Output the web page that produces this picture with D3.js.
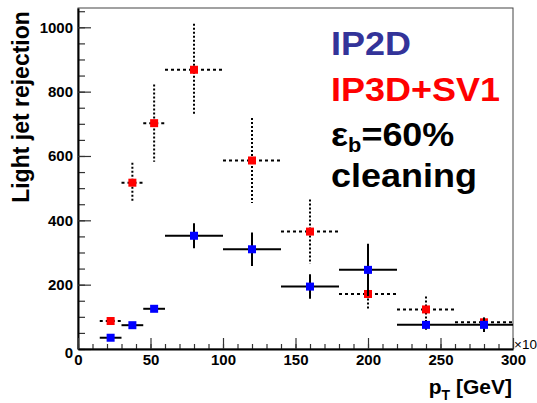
<!DOCTYPE html>
<html>
<head>
<meta charset="utf-8">
<script src="https://cdn.jsdelivr.net/npm/d3@7"></script>
<style>
  body { margin: 0; background: #fff; }
  text { font-family: "Liberation Sans", Arial, sans-serif; font-weight: bold; }
</style>
</head>
<body>
<div id="chart-area"></div>
<script>
// pT bins [GeV] and light jet rejection at eff_b = 60%
const binLow  = [15, 30, 45, 60, 100, 140, 180, 220, 260]
const binHigh = [30, 45, 60, 100, 140, 180, 220, 260, 300]

const ip2d    = [35, 74, 125, 352, 310, 194, 246, 75, 75]
const ip2dErr = [8, 8, 10, 39, 52, 38, 81, 15, 22]

const ip3dsv1    = [87, 517, 702, 868, 586, 365, 171, 123, 83]
const ip3dsv1Err = [10, 62, 120, 143, 132, 100, 48, 40, 15]

const yTicks = [0, 200, 400, 600, 800, 1000]
const xTicks = [0, 50, 100, 150, 200, 250, 300]

const W = 537
const H = 403
const PLOT = {LEFT: 78, RIGHT: 513, TOP: 8, BOTTOM: 349}

const svg = d3.select("#chart-area").append("svg")
  .attr("width", W)
  .attr("height", H)

const x = d3.scaleLinear()
  .domain([0, 300])
  .range([PLOT.LEFT, PLOT.RIGHT])

const y = d3.scaleLinear()
  .domain([0, 1060])
  .range([PLOT.BOTTOM, PLOT.TOP])

// frame
svg.append("rect")
  .attr("x", PLOT.LEFT)
  .attr("y", PLOT.TOP)
  .attr("width", PLOT.RIGHT - PLOT.LEFT)
  .attr("height", PLOT.BOTTOM - PLOT.TOP)
  .attr("fill", "none")
  .attr("stroke", "#444")
  .attr("stroke-width", 1)

// minor ticks
svg.append("g")
  .attr("transform", `translate(${PLOT.LEFT}, 0)`)
  .call(d3.axisLeft(y).tickValues(d3.range(0, 1060, 50)).tickSize(-7).tickSizeOuter(0).tickFormat(""))
  .call(g => g.select(".domain").remove())
  .selectAll("line").attr("stroke", "#333").attr("stroke-width", 1.2)

svg.append("g")
  .attr("transform", `translate(0, ${PLOT.BOTTOM})`)
  .call(d3.axisBottom(x).tickValues(d3.range(0, 301, 10)).tickSize(-5).tickSizeOuter(0).tickFormat(""))
  .call(g => g.select(".domain").remove())
  .selectAll("line").attr("stroke", "#333").attr("stroke-width", 1.2)

// major axes
const yAxisGroup = svg.append("g")
  .attr("transform", `translate(${PLOT.LEFT}, 0)`)
  .call(d3.axisLeft(y).tickValues(yTicks).tickSize(-13).tickSizeOuter(0).tickPadding(5).tickFormat(d3.format("d")))

const xAxisGroup = svg.append("g")
  .attr("transform", `translate(0, ${PLOT.BOTTOM})`)
  .call(d3.axisBottom(x).tickValues(xTicks).tickSize(-11).tickSizeOuter(0).tickPadding(5).tickFormat(d3.format("d")))

for (const ax of [yAxisGroup, xAxisGroup]) {
  ax.select(".domain").attr("stroke-width", 2)
  ax.selectAll("line").attr("stroke", "#333").attr("stroke-width", 1.2)
  ax.selectAll("text")
    .style("font-size", "15px")
    .style("font-family", "Liberation Sans, Arial, sans-serif")
    .style("font-weight", "bold")
    .attr("fill", "#000")
}
yAxisGroup.selectAll("text").filter(d => d === 0).attr("dy", "0.55em")

svg.append("text")
  .attr("x", 514)
  .attr("y", 349)
  .style("font-size", "13.5px")
  .style("font-weight", "normal")
  .text("×10")

// axis titles
svg.append("text")
  .attr("transform", "rotate(-90)")
  .attr("x", -107)
  .attr("y", 29)
  .style("font-size", "23px")
  .attr("text-anchor", "middle")
  .text("Light jet rejection")

const xTitle = svg.append("text")
  .attr("x", 512)
  .attr("y", 394)
  .style("font-size", "21px")
  .attr("text-anchor", "end")
xTitle.append("tspan").text("p")
xTitle.append("tspan").attr("dy", 6).style("font-size", "14px").text("T")
xTitle.append("tspan").attr("dy", -6).text(" [GeV]")

// series
function drawSeries (vals, errs, color, dotted) {
  const data = vals.map((v, i) => ({lo: binLow[i], hi: binHigh[i], v: v, e: errs[i]}))
  const grp = svg.append("g")

  grp.selectAll("line.h").data(data).enter().append("line")
    .attr("class", "h")
    .attr("x1", d => x(d.lo))
    .attr("x2", d => x(d.hi))
    .attr("y1", d => y(d.v))
    .attr("y2", d => y(d.v))
    .attr("stroke", "#000")
    .attr("stroke-width", 2)
    .attr("stroke-dasharray", dotted ? "3,3" : null)

  grp.selectAll("line.v").data(data).enter().append("line")
    .attr("class", "v")
    .attr("x1", d => x((d.lo + d.hi) / 2))
    .attr("x2", d => x((d.lo + d.hi) / 2))
    .attr("y1", d => y(d.v + d.e))
    .attr("y2", d => y(d.v - d.e))
    .attr("stroke", "#000")
    .attr("stroke-width", 2)
    .attr("stroke-dasharray", dotted ? "2,2" : null)

  grp.selectAll("rect").data(data).enter().append("rect")
    .attr("x", d => x((d.lo + d.hi) / 2) - 4)
    .attr("y", d => y(d.v) - 4)
    .attr("width", 8)
    .attr("height", 8)
    .attr("fill", color)
}

drawSeries(ip3dsv1, ip3dsv1Err, "#ff0000", true)
drawSeries(ip2d, ip2dErr, "#0000ff", false)

// legend text
const legend = svg.append("g")
  .attr("transform", "translate(331, 0) scale(1.09, 1)")

legend.append("text")
  .attr("y", 55)
  .style("font-size", "33px")
  .attr("fill", "#333399")
  .text("IP2D")

legend.append("text")
  .attr("y", 101)
  .style("font-size", "33px")
  .attr("fill", "#ff0000")
  .text("IP3D+SV1")

const eff = legend.append("text")
  .attr("y", 146)
  .style("font-size", "33px")
  .attr("fill", "#000")
eff.append("tspan").text("ε")
eff.append("tspan").attr("dy", 6).style("font-size", "20px").text("b")
eff.append("tspan").attr("dy", -6).text("=60%")

legend.append("text")
  .attr("y", 187)
  .style("font-size", "33px")
  .attr("fill", "#000")
  .text("cleaning")
</script>
</body>
</html>
